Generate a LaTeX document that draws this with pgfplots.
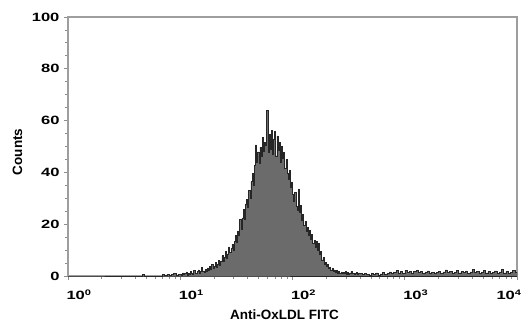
\documentclass[border=0pt]{standalone}
\usepackage{fontspec}
\setmainfont{Liberation Sans}
\usepackage{graphicx}
\usepackage{pgfplots}
\usepackage{pgfplotstable}
\pgfplotsset{compat=1.18}
\newcommand{\sx}[1]{\scalebox{1.38}[1]{#1}}
\newcommand{\dec}[1]{\sx{10}\textsuperscript{\sx{#1}}}
\pgfplotstableread{
L v
0.00 0
0.66 0.6
0.68 0
0.84 0.5
0.86 0.2
0.88 0.7
0.90 0.2
0.92 0.5
0.94 0.9
0.96 0.4
0.98 0.7
1.00 0.8
1.01 0.3
1.02 1.2
1.03 0.5
1.04 0.9
1.05 1.6
1.06 0.4
1.07 1.1
1.08 0.7
1.09 1.8
1.10 1.0
1.11 0.6
1.12 2.1
1.13 1.2
1.14 0.9
1.15 1.7
1.16 2.4
1.17 1.1
1.18 1.9
1.19 3.2
1.20 2.0
1.21 1.4
1.22 2.6
1.23 1.8
1.24 3.1
1.25 2.2
1.26 3.6
1.27 2.5
1.28 4.4
1.29 2.9
1.30 3.8
1.31 5.2
1.32 3.4
1.33 4.6
1.34 6.1
1.35 4.3
1.36 5.8
1.37 7.9
1.38 5.6
1.39 7.2
1.40 9.4
1.41 6.8
1.42 8.5
1.43 11.2
1.44 9.0
1.45 10.6
1.46 12.1
1.47 9.8
1.48 13.5
1.49 15.8
1.50 13.2
1.51 17.4
1.52 15.6
1.53 21.8
1.54 18.2
1.55 22.4
1.56 25.6
1.57 22.0
1.58 27.8
1.59 29.6
1.60 26.4
1.61 33.1
1.62 30.2
1.63 36.4
1.64 39.5
1.65 35.2
1.66 42.8
1.67 50.6
1.68 44.1
1.69 47.9
1.70 43.5
1.71 49.8
1.72 46.2
1.73 53.4
1.74 48.0
1.75 51.5
1.76 50.5
1.77 64.0
1.78 47.6
1.79 54.8
1.80 49.1
1.81 56.3
1.82 47.2
1.83 52.9
1.84 55.8
1.85 46.4
1.86 54.1
1.87 48.5
1.88 51.7
1.89 44.0
1.90 50.2
1.91 45.3
1.92 47.8
1.93 41.6
1.94 44.9
1.95 39.7
1.96 37.2
1.97 40.8
1.98 34.1
1.99 36.3
2.00 31.5
2.01 28.7
2.02 32.4
2.03 27.1
2.04 25.3
2.05 33.6
2.06 24.8
2.07 27.2
2.08 21.5
2.09 23.9
2.10 19.6
2.11 21.2
2.12 17.4
2.13 18.9
2.14 15.8
2.15 17.6
2.16 14.2
2.17 16.1
2.18 12.5
2.19 13.8
2.20 11.2
2.21 13.4
2.22 10.1
2.23 12.6
2.24 8.3
2.25 9.4
2.26 6.2
2.27 7.1
2.28 4.6
2.29 5.3
2.30 3.8
2.31 4.4
2.32 2.9
2.33 3.5
2.34 2.2
2.35 2.8
2.36 1.9
2.37 2.4
2.38 1.5
2.39 2.1
2.40 1.2
2.41 1.8
2.42 1.1
2.43 1.6
2.44 0.9
2.45 1.4
2.46 1.0
2.47 1.7
2.48 0.8
2.49 1.3
2.50 0.7
2.51 1.2
2.52 1.9
2.53 0.9
2.54 1.1
2.55 0.6
2.56 1.0
2.57 1.5
2.58 0.8
2.59 1.2
2.60 0.9
2.62 0.5
2.64 1.1
2.66 0.7
2.68 0.3
2.70 0.9
2.72 0.6
2.74 1.2
2.76 0.4
2.78 0.8
2.80 1.3
2.82 0.7
2.84 1.0
2.86 1.6
2.88 0.9
2.90 1.4
2.92 2.1
2.94 1.2
2.96 1.8
2.98 1.1
3.00 2.3
3.02 1.5
3.04 1.9
3.06 1.0
3.08 1.7
3.10 2.2
3.12 1.3
3.14 1.8
3.16 1.1
3.18 1.6
3.20 2.0
3.22 1.2
3.24 1.5
3.26 0.9
3.28 1.4
3.30 1.9
3.32 1.1
3.34 1.6
3.36 2.4
3.38 1.3
3.40 1.7
3.42 1.0
3.44 1.5
3.46 2.1
3.48 1.2
3.50 1.8
3.52 1.4
3.54 2.0
3.56 1.1
3.58 1.6
3.60 2.6
3.62 1.3
3.64 1.9
3.66 1.0
3.68 1.5
3.70 2.2
3.72 1.2
3.74 1.7
3.76 0.9
3.78 1.4
3.80 2.0
3.82 1.1
3.84 1.6
3.86 2.5
3.88 1.2
3.90 1.8
3.92 1.0
3.94 1.5
3.96 2.1
3.98 1.3
4.00 1.3
}\histdata
\begin{document}
\begin{tikzpicture}
\begin{axis}[
  scale only axis, width=449pt, height=259pt,
  at={(0,0)}, anchor=south west,
  xmin=0, xmax=4, ymin=0, ymax=100,
  xtick={0,1,2,3,4},
  xticklabels={\dec{0},\dec{1},\dec{2},\dec{3},\hspace*{-19pt}\dec{4}},
  minor xtick={0.301,0.477,0.602,0.699,0.778,0.845,0.903,0.954,
               1.301,1.477,1.602,1.699,1.778,1.845,1.903,1.954,
               2.301,2.477,2.602,2.699,2.778,2.845,2.903,2.954,
               3.301,3.477,3.602,3.699,3.778,3.845,3.903,3.954},
  ytick={0,20,40,60,80,100},
  yticklabels={\sx{0},\sx{20},\sx{40},\sx{60},\sx{80},\sx{100}},
  minor y tick num=3,
  tick align=outside, xtick pos=bottom, ytick pos=left,
  major tick length=4pt, minor tick length=2.5pt,
  axis line style={draw=black!38, line width=1.1pt},
  tick style={draw=black!45, line width=0.8pt},
  ticklabel style={font=\bfseries\fontsize{12}{12}\selectfont},
  xticklabel style={anchor=north west, yshift=-6pt, xshift=-5pt},
  yticklabel style={xshift=-1pt},
  xlabel={Anti-OxLDL FITC},
  ylabel={Counts},
  label style={font=\bfseries\fontsize{13.5}{13.5}\selectfont},
  xlabel style={at={(rel axis cs:0.482,0)}, anchor=base, yshift=-43pt},
  ylabel style={at={(rel axis cs:0,0.479)}, anchor=center, yshift=50.5pt},
]
\addplot[const plot, fill=black!58, draw=black!85, line width=0.5pt] table[x=L, y=v] {\histdata} \closedcycle;
\end{axis}
\pgfresetboundingbox
\path (-68pt,-53pt) rectangle (454pt,276pt);
\end{tikzpicture}
\end{document}
